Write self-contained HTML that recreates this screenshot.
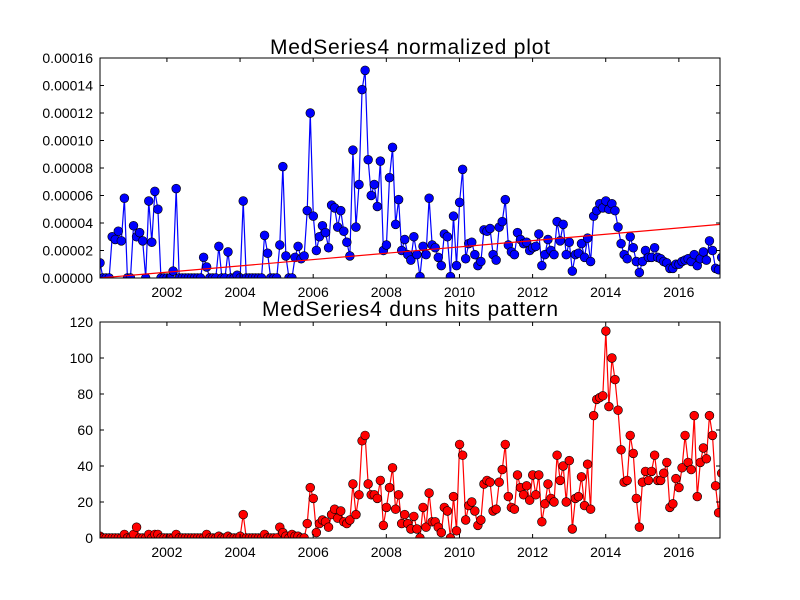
<!DOCTYPE html>
<html><head><meta charset="utf-8"><style>
html,body{margin:0;padding:0;background:#fff;}
svg{display:block;font-family:"Liberation Sans",sans-serif;}
</style></head><body>
<svg id="chart" width="800" height="600" viewBox="0 0 800 600" xmlns="http://www.w3.org/2000/svg">
<rect width="800" height="600" fill="#fff"/>
<defs>
<clipPath id="c1"><rect x="100" y="58" width="620" height="220"/></clipPath>
<clipPath id="c2"><rect x="100" y="322" width="620" height="216"/></clipPath>
</defs>
<text x="410" y="54" text-anchor="middle" font-size="21" textLength="280" lengthAdjust="spacing">MedSeries4 normalized plot</text>
<text x="410" y="316" text-anchor="middle" font-size="21" textLength="296" lengthAdjust="spacing">MedSeries4 duns hits pattern</text>
<g id="top"></g>
<g id="bot"></g>
</svg>
<script>
const startYear = 2000.17;
const monthStep = 1/12;
const xTickYears = [2002,2004,2006,2008,2010,2012,2014,2016];
const topTicks = [0,20,40,60,80,100,120,140,160];
const topTickLabels = ["0.00000","0.00002","0.00004","0.00006","0.00008","0.00010","0.00012","0.00014","0.00016"];
const botTicks = [0,20,40,60,80,100,120];
const botTickLabels = ["0","20","40","60","80","100","120"];
// normalized values in units of 1e-6
const topValues = [11,0,0,0,30,28,34,27,58,0,0,38,30,33,27,0,56,26,63,50,0,0,0,0,5,65,0,0,0,0,0,0,0,0,15,8,0,0,0,23,0,0,19,0,0,2,0,56,0,0,0,0,0,0,31,18,0,0,0,24,81,16,0,0,15,
23,14,16,49,120,45,20,30,38,33,22,53,51,37,49,34,26,16,93,37,68,137,151,86,60,68,52,85,20,24,73,95,39,57,20,28,17,13,30,17,1,23,17,58,24,22,15,9,32,30,1,45,9,55,79,14,25,26,17,9,12,35,34,36,17,13,37,41,
57,24,19,17,33,28,25,26,20,22,23,32,9,17,28,20,17,41,27,39,17,26,5,17,18,25,15,29,12,45,49,54,51,56,50,54,49,37,25,17,14,30,22,12,4,12,20,15,15,22,15,14,12,11,7,7,10,10,12,13,14,12,17,9,14,19,13,27,20,7,6,15,15];
const trendStart = 0;
const trendEnd = 39;
const botValues = [1,0,0,0,0,0,0,0,2,0,0,2,6,0,0,0,2,0,2,2,0,0,0,0,0,2,0,0,0,0,0,0,0,0,0,2,0,0,0,1,0,0,1,0,0,0,1,13,0,0,0,0,0,0,2,0,0,0,0,6,3,1,0,2,1,
1,0,0,8,28,22,3,8,10,9,6,13,16,11,15,9,8,10,30,13,24,54,57,30,24,24,22,32,7,17,28,39,16,24,8,13,8,5,12,5,0,17,6,25,9,9,6,3,17,15,0,23,4,52,46,10,18,20,15,7,10,30,32,31,15,16,31,38,
52,23,17,16,35,28,24,29,21,35,24,35,9,19,30,22,20,46,32,40,20,43,5,22,23,34,18,41,16,68,77,78,79,115,73,100,88,71,49,31,32,57,47,22,6,31,37,32,37,46,32,32,36,42,17,19,33,28,39,57,42,38,68,23,42,50,44,68,57,29,14,36,19];

const NS = "http://www.w3.org/2000/svg";
const X0 = 100, X1 = 720, D0 = 2000.17, D1 = 2017.125;
function xScale(yr){ return X0 + (yr - D0) / (D1 - D0) * (X1 - X0); }
function mk(tag, attrs, parent){ const e = document.createElementNS(NS, tag); for (const k in attrs) e.setAttribute(k, attrs[k]); parent.appendChild(e); return e; }

function panel(g, top, bottom, ymax, ticks, labels, values, color, clip, nameP){
  const yScale = v => bottom - v / ymax * (bottom - top);
  let d = "";
  values.forEach((v,i)=>{ const x = xScale(startYear + i*monthStep), y = yScale(v); d += (i?"L":"M") + x.toFixed(2) + "," + y.toFixed(2); });
  const sg = mk("g", {"clip-path":"url(#"+clip+")"}, g);
  
  
  const line = mk("path", {d:d, fill:"none", stroke:color, "stroke-width":1.2}, sg);
  
  
  values.forEach((v,i)=>{
    const c = mk("circle", {cx:xScale(startYear + i*monthStep).toFixed(2), cy:yScale(v).toFixed(2), r:4.4, fill:color, stroke:"#000", "stroke-width":0.6}, sg);
    
    
  });
  xTickYears.forEach(yr=>{
    const x = xScale(yr);
    mk("line",{x1:x,x2:x,y1:bottom,y2:bottom-4,stroke:"#000"},g);
    mk("line",{x1:x,x2:x,y1:top,y2:top+4,stroke:"#000"},g);
    const t = mk("text",{x:x,y:bottom+19,"text-anchor":"middle","font-size":14},g);
    t.textContent = yr;
    
    
  });
  ticks.forEach((v,i)=>{
    const y = yScale(v);
    mk("line",{x1:X0,x2:X0+4,y1:y,y2:y,stroke:"#000"},g);
    mk("line",{x1:X1,x2:X1-4,y1:y,y2:y,stroke:"#000"},g);
    const t = mk("text",{x:93,y:y+5,"text-anchor":"end","font-size":14},g);
    t.textContent = labels[i];
    
    
  });
  const f = mk("rect",{x:X0,y:top,width:X1-X0,height:bottom-top,fill:"none",stroke:"#000","stroke-width":1},g);
  
  
  return {yScale, sg};
}

const tp = panel(document.getElementById("top"), 58, 278, 160, topTicks, topTickLabels, topValues, "#0000ff", "c1", "top");
const tr = mk("line",{x1:xScale(startYear),y1:tp.yScale(trendStart),x2:xScale(D1),y2:tp.yScale(trendEnd),stroke:"#ff0000","stroke-width":1.2}, tp.sg);


panel(document.getElementById("bot"), 322, 538, 120, botTicks, botTickLabels, botValues, "#ff0000", "c2", "bottom");
</script>
</body></html>
